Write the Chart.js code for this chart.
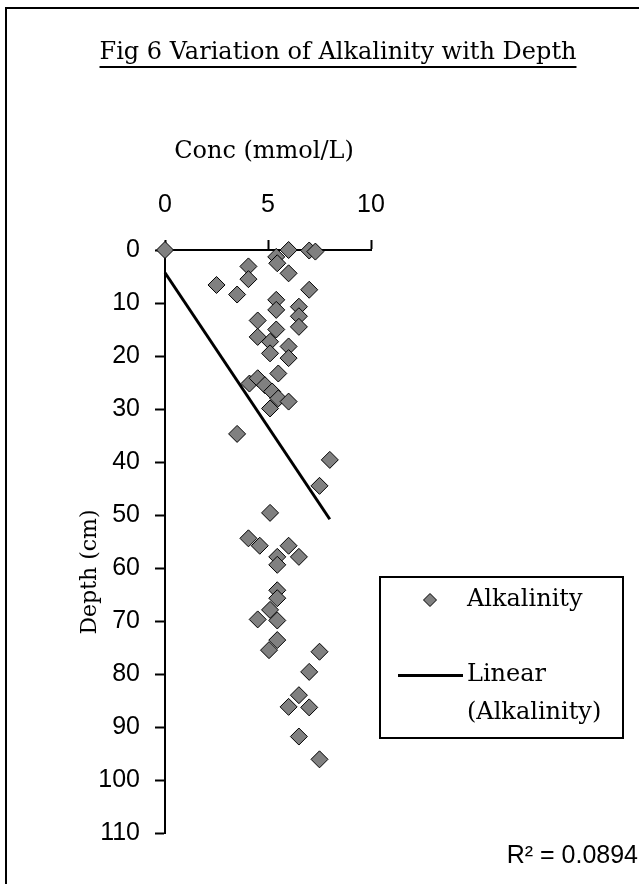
<!DOCTYPE html>
<html>
<head>
<meta charset="utf-8">
<script src="https://cdn.jsdelivr.net/npm/chart.js@4.4.1/dist/chart.umd.min.js"></script>
<style>
  html, body { margin: 0; padding: 0; background: #fff; }
  #wrap { width: 639px; height: 884px; }
</style>
</head>
<body>
<div id="wrap"><canvas id="chart" width="639" height="884"></canvas></div>
<script>
// concentration (mmol/L) and depth (cm)
const conc = [0, 6.0, 7.0, 7.3, 5.4, 5.45, 4.05, 4.05, 6.0, 2.5, 7.0, 3.5, 5.4, 5.4, 6.5, 6.5,
  6.5, 4.5, 5.4, 4.5, 5.1, 6.0, 5.1, 6.0, 5.5, 4.1, 4.5, 4.85, 5.2, 5.5, 6.0, 5.1,
  3.5, 8.0, 7.5, 5.1, 4.05, 4.6, 6.0, 6.5, 5.45, 5.45, 5.45, 5.45, 5.1, 4.5, 5.45,
  5.45, 5.05, 7.5, 7.0, 6.5, 6.0, 7.0, 6.5, 7.5];
const depth = [0, 0, 0.1, 0.3, 1.3, 2.5, 3.1, 5.5, 4.4, 6.6, 7.5, 8.4, 9.4, 11.3, 10.7, 12.5,
  14.5, 13.3, 15.0, 16.4, 17.3, 18.2, 19.5, 20.4, 23.3, 25.2, 24.2, 25.5, 26.7, 28.0, 28.6, 29.9,
  34.7, 39.6, 44.5, 49.6, 54.4, 55.8, 55.8, 57.9, 57.9, 59.4, 64.2, 65.7, 67.9, 69.7, 69.9,
  73.6, 75.5, 75.8, 79.6, 84.0, 86.2, 86.3, 91.8, 96.1];

// linear trendline end points
const trendConc = [0, 8.0];
const trendDepth = [4.3, 50.8];

const xTicks = [0, 5, 10];
const yTicks = [0, 10, 20, 30, 40, 50, 60, 70, 80, 90, 100, 110];

const serif = '"DejaVu Serif", serif';
const sans = '"Liberation Sans", Arial, sans-serif';

function diamond(ctx, x, y, r) {
  ctx.beginPath();
  ctx.moveTo(x - r, y);
  ctx.lineTo(x, y - r);
  ctx.lineTo(x + r, y);
  ctx.lineTo(x, y + r);
  ctx.closePath();
  ctx.fillStyle = '#808080';
  ctx.fill();
  ctx.lineWidth = 1;
  ctx.strokeStyle = '#000';
  ctx.stroke();
}

const decor = {
  id: 'decor',
  beforeDraw(chart) {
    let ctx = chart.ctx;
    ctx.save();
    ctx.fillStyle = '#fff';
    ctx.fillRect(0, 0, chart.width, chart.height);
    ctx.strokeStyle = '#000';
    ctx.lineWidth = 2;
    ctx.strokeRect(6, 8, 700, 900);
    ctx.restore();
  },
  afterDraw(chart) {
    let ctx = chart.ctx;
    ctx.save();
    ctx.fillStyle = '#000';
    ctx.textBaseline = 'middle';

    // title, underlined
    ctx.font = '24px ' + serif;
    ctx.textAlign = 'center';
    let title = 'Fig 6 Variation of Alkalinity with Depth';
    ctx.fillText(title, 338, 53);
    let w = ctx.measureText(title).width;
    ctx.fillRect(338 - w / 2, 66, w, 2);

    // axis titles
    ctx.fillText('Conc (mmol/L)', 264, 152);
    ctx.save();
    ctx.font = '22px ' + serif;
    ctx.translate(90, 572);
    ctx.rotate(-Math.PI / 2);
    ctx.fillText('Depth (cm)', 0, 0);
    ctx.restore();

    // legend box
    ctx.lineWidth = 2;
    ctx.strokeStyle = '#000';
    ctx.strokeRect(380, 577, 243, 161);
    diamond(ctx, 430, 600, 6.5);
    ctx.fillStyle = '#000';
    ctx.fillRect(398, 674, 65, 3);
    ctx.textAlign = 'left';
    ctx.fillText('Alkalinity', 467, 600);
    ctx.fillText('Linear', 467, 675);
    ctx.fillText('(Alkalinity)', 467, 713);

    // r squared
    ctx.font = '25px ' + sans;
    ctx.textAlign = 'right';
    ctx.fillText('R² = 0.0894', 638, 856);
    ctx.restore();
  }
};

const points = conc.map((c, i) => ({ x: c, y: depth[i] }));
const trend = trendConc.map((c, i) => ({ x: c, y: trendDepth[i] }));

const axisStyle = {
  grid: { drawOnChartArea: false, drawTicks: true, tickLength: 10, tickColor: '#000', tickWidth: 2 },
  border: { display: true, color: '#000', width: 2 },
};

new Chart(document.getElementById('chart'), {
  type: 'scatter',
  data: {
    datasets: [
      {
        label: 'Alkalinity',
        data: points,
        pointStyle: 'rectRot',
        pointRadius: 8.5,
        pointHoverRadius: 8.5,
        backgroundColor: '#808080',
        borderColor: '#000',
        borderWidth: 1,
        clip: false,
        order: 1,
      },
      {
        label: 'Linear (Alkalinity)',
        data: trend,
        showLine: true,
        pointRadius: 0,
        borderColor: '#000',
        borderWidth: 3,
        clip: false,
        order: 2,
      },
    ],
  },
  options: {
    responsive: false,
    animation: false,
    devicePixelRatio: 1,
    layout: { padding: { left: 0, top: 0, right: 268, bottom: 51 } },
    plugins: { legend: { display: false }, title: { display: false }, tooltip: { enabled: false } },
    scales: {
      x: {
        type: 'linear',
        position: 'top',
        min: 0,
        max: 10,
        afterBuildTicks: (scale) => { scale.ticks = xTicks.map((v) => ({ value: v })); },
        afterFit: (scale) => { scale.height = 250; },
        ticks: { color: '#000', padding: 20, font: { family: sans, size: 25 } },
        ...axisStyle,
      },
      y: {
        type: 'linear',
        reverse: true,
        min: 0,
        max: 110,
        afterBuildTicks: (scale) => { scale.ticks = yTicks.map((v) => ({ value: v })); },
        afterFit: (scale) => { scale.width = 165; },
        ticks: { color: '#000', padding: 15, font: { family: sans, size: 25 } },
        ...axisStyle,
      },
    },
  },
  plugins: [decor],
});
</script>
</body>
</html>
